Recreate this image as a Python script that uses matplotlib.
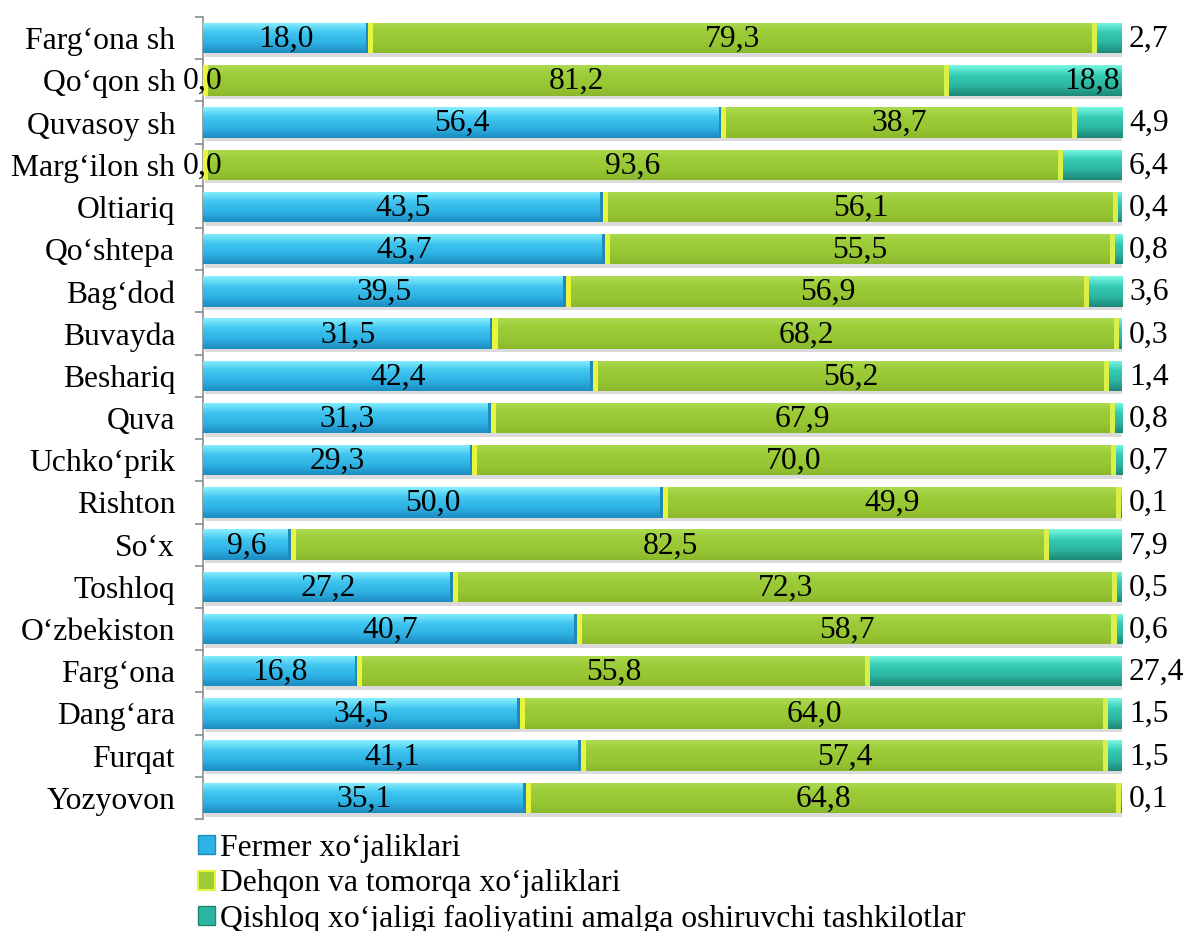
import numpy as np
import matplotlib
matplotlib.use("Agg")
import matplotlib.pyplot as plt
import matplotlib.patheffects as pe
from matplotlib.colors import LinearSegmentedColormap
from matplotlib.patches import Patch

plt.rcParams['font.family'] = ['Liberation Serif', 'DejaVu Serif']

regions = ["Farg‘ona sh", "Qo‘qon sh", "Quvasoy sh", "Marg‘ilon sh", "Oltiariq",
           "Qo‘shtepa", "Bag‘dod", "Buvayda", "Beshariq", "Quva", "Uchko‘prik",
           "Rishton", "So‘x", "Toshloq", "O‘zbekiston", "Farg‘ona", "Dang‘ara",
           "Furqat", "Yozyovon"]
fermer = [18.0, 0.0, 56.4, 0.0, 43.5, 43.7, 39.5, 31.5, 42.4, 31.3, 29.3,
          50.0, 9.6, 27.2, 40.7, 16.8, 34.5, 41.1, 35.1]
dehqon = [79.3, 81.2, 38.7, 93.6, 56.1, 55.5, 56.9, 68.2, 56.2, 67.9, 70.0,
          49.9, 82.5, 72.3, 58.7, 55.8, 64.0, 57.4, 64.8]
tashkilot = [2.7, 18.8, 4.9, 6.4, 0.4, 0.8, 3.6, 0.3, 1.4, 0.8, 0.7,
             0.1, 7.9, 0.5, 0.6, 27.4, 1.5, 1.5, 0.1]
series_names = ["Fermer xo‘jaliklari", "Dehqon va tomorqa xo‘jaliklari",
                "Qishloq xo‘jaligi faoliyatini amalga oshiruvchi tashkilotlar"]
inside_end = ["Qo‘qon sh"]   # third-series label drawn inside the bar end

blue = ['#8AF0FF', '#40C6F0', '#2EB2E4', '#1E8CC0']
green = ['#ACDA50', '#9BCB36', '#98C733', '#8AB82C']
teal = ['#7AF7E2', '#36CBB4', '#2CB6A0', '#1E8878']
fsize = 22.8

fig = plt.figure(figsize=(11.89, 9.31), dpi=100)
ax = fig.add_axes([0.1707, 0.1203, 0.7730, 0.8614])

y = np.arange(len(regions))
fermer = np.array(fermer)
dehqon = np.array(dehqon)
tashkilot = np.array(tashkilot)
bh = 0.72

shadow = [pe.SimplePatchShadow(offset=(1.5, -2.5), shadow_rgbFace='#888888', alpha=0.3), pe.Normal()]


def shade(bars, cols, z):
    cmap = LinearSegmentedColormap.from_list('g', cols)
    grad = np.linspace(0, 1, 64).reshape(-1, 1)
    for b in bars:
        b.set_path_effects(shadow)
        x0, y0, w, h = b.get_x(), b.get_y(), b.get_width(), b.get_height()
        if w <= 0:
            continue
        im = ax.imshow(grad, cmap=cmap, extent=[x0, x0 + w, y0 + h, y0],
                       origin='upper', aspect='auto', zorder=z, interpolation='bilinear')
        im.set_clip_path(b)


b1 = ax.barh(y, fermer, height=bh, color=blue[2], zorder=2)
b2 = ax.barh(y, dehqon, left=fermer, height=bh, color=green[2], zorder=2)
b3 = ax.barh(y, tashkilot, left=fermer + dehqon, height=bh, color=teal[2], zorder=2)
shade(b1, blue, 3)
shade(b2, green, 3)
shade(b3, teal, 3)

# light bevel stripes at both ends of the green segments
ax.barh(y, 0.55, left=fermer, height=bh, color='#E8F53C', zorder=4)
ax.barh(y, 0.55, left=fermer + dehqon - 0.55, height=bh, color='#D9F04A', zorder=4)
# darker right edge of blue segments
ax.barh(y[fermer > 0], 0.3, left=fermer[fermer > 0] - 0.3, height=bh,
        color='#2088BA', zorder=4)


def fmt(v):
    return f"{v:.1f}".replace('.', ',')


for i in range(len(regions)):
    ax.text(fermer[i] / 2, y[i] + 0.03, fmt(fermer[i]), ha='center', va='center',
            fontsize=fsize, zorder=6)
    ax.text(fermer[i] + dehqon[i] / 2, y[i] + 0.03, fmt(dehqon[i]), ha='center',
            va='center', fontsize=fsize, zorder=6)
    end = fermer[i] + dehqon[i] + tashkilot[i]
    if regions[i] in inside_end:
        ax.annotate(fmt(tashkilot[i]), (end, y[i] + 0.03), xytext=(-2, 0),
                    textcoords='offset points', ha='right', va='center',
                    fontsize=fsize, zorder=6)
    else:
        ax.annotate(fmt(tashkilot[i]), (end, y[i] + 0.03), xytext=(5, 0),
                    textcoords='offset points', ha='left', va='center',
                    fontsize=fsize, zorder=6, annotation_clip=False)

ax.set_xlim(0, 100)
ax.set_ylim(len(regions) - 0.5, -0.5)
ax.set_yticks(y)
ax.set_yticklabels(regions, fontsize=fsize)
ax.set_yticks(np.arange(len(regions) + 1) - 0.5, minor=True)
ax.tick_params(axis='y', which='major', length=0, pad=20)
ax.tick_params(axis='y', which='minor', length=6, width=1.2, color='#8C8C8C', direction='out')
ax.set_xticks([])
for s in ['top', 'right', 'bottom']:
    ax.spines[s].set_visible(False)
ax.spines['left'].set_color('#8C8C8C')
ax.spines['left'].set_linewidth(1.2)

handles = [Patch(facecolor=blue[2], edgecolor=blue[3]),
           Patch(facecolor=green[1], edgecolor='#E8F53C', linewidth=1.5),
           Patch(facecolor=teal[2], edgecolor=teal[3])]
fig.legend(handles, series_names, loc='upper left', bbox_to_anchor=(198 / 1189, 1 - 834 / 931),
           frameon=False, fontsize=fsize, handlelength=0.55, handleheight=0.55,
           handletextpad=0.15, labelspacing=0.2, borderpad=0, borderaxespad=0)

fig.savefig("out.png", dpi=100)
